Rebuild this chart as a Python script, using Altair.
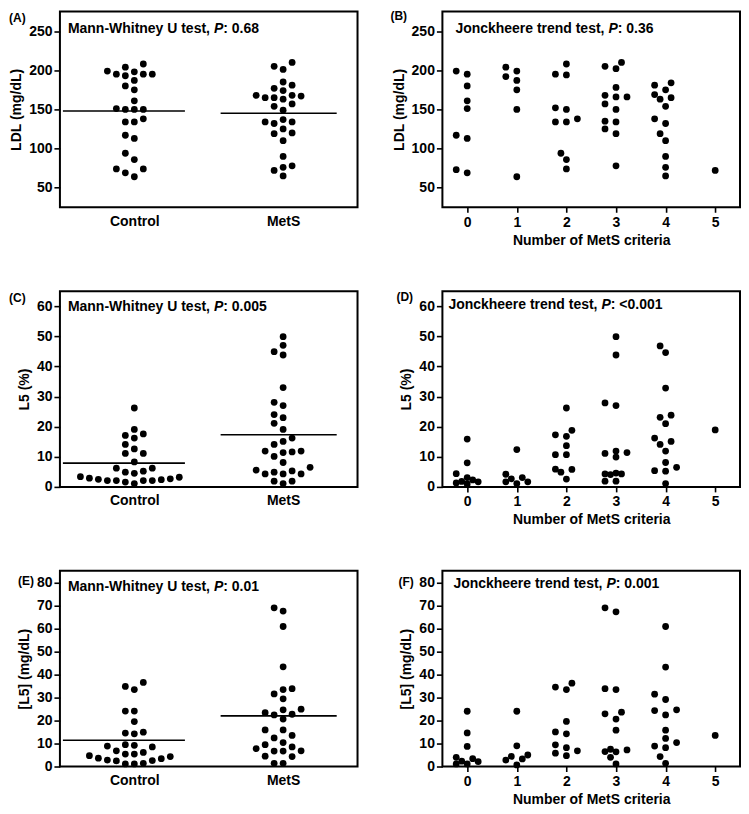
import math
import altair as alt
import pandas as pd

# ---------------- data ----------------
GROUP_LABELS = ["Control", "MetS"]
CRITERIA = [0, 1, 2, 3, 4, 5]

# (A) LDL (mg/dL) by group
LDL_CONTROL = [208, 204, 199, 198, 195, 195, 193, 195, 187, 180, 175, 161, 150, 150,
               150, 151, 138, 134, 134, 117, 113, 94, 86, 74, 74, 69, 64]
LDL_METS = [210, 205, 201, 185, 181, 177, 174, 168, 168, 167, 165, 165, 163, 157, 154,
            149, 137, 134, 134, 132, 125, 120, 119, 110, 90, 78, 76, 72, 65]
LDL_MEDIANS = [148, 145]

# (B) LDL by number of MetS criteria
LDL_BY_CRIT = [
    [117, 195, 180, 151, 113, 69, 199, 161, 73],
    [199, 192, 175, 150, 64, 204, 187],
    [208, 152, 138, 194, 150, 134, 94, 74, 195, 134, 86],
    [205, 168, 157, 125, 202, 166, 150, 135, 119, 78, 210, 178, 166, 134],
    [181, 165, 138, 175, 154, 132, 110, 90, 65, 169, 184, 163, 119, 76],
    [72],
]

# (C) L5 (%) by group
L5P_CONTROL = [26.2, 19.1, 17.6, 17.1, 16.2, 14.1, 12.6, 11.1, 11.1, 8.3, 6.2, 6.2, 5.2,
               4.9, 4.5, 3.4, 3.2, 2.9, 2.7, 2.5, 2.4, 2.1, 2.1, 2.1, 2.1, 1.6, 1.1]
L5P_METS = [49.9, 47.0, 44.9, 43.8, 33.0, 28.1, 27.0, 24.0, 23.0, 21.1, 19.1, 16.2, 15.1,
            14.1, 11.9, 11.9, 11.6, 11.4, 10.1, 8.1, 6.5, 5.6, 5.3, 4.9, 4.3, 4.3, 4.3,
            1.9, 1.9, 1.1]
L5P_MEDIANS = [7.9, 17.3]

# (D) L5 (%) by number of MetS criteria
L5P_BY_CRIT = [
    [15.9, 8.0, 4.4, 3.1, 2.3, 1.8, 1.7, 1.3, 1.0],
    [12.4, 4.2, 3.1, 2.7, 1.7, 1.7, 1.1],
    [26.2, 18.8, 17.3, 16.8, 13.7, 10.7, 10.7, 5.9, 5.8, 4.9, 2.6],
    [49.9, 43.8, 27.9, 27.0, 11.9, 11.4, 11.1, 9.9, 4.6, 4.3, 4.3, 4.1, 1.9, 1.9],
    [46.8, 44.6, 32.8, 23.8, 23.1, 21.0, 16.2, 15.1, 14.1, 11.9, 8.1, 6.5, 5.4, 5.2, 1.1],
    [18.9],
]

# (E) [L5] (mg/dL) by group
L5C_CONTROL = [36.5, 34.8, 33.4, 24.1, 24.1, 19.5, 14.9, 14.5, 14.2, 9.5, 9.2, 8.9, 8.5,
               6.8, 6.1, 5.4, 5.4, 4.7, 4.3, 3.6, 3.4, 2.8, 2.6, 2.4, 1.4, 1.1, 1.1]
L5C_METS = [68.9, 67.5, 60.8, 43.3, 33.8, 33.4, 31.5, 29.4, 24.9, 24.6, 23.4, 22.7, 22.4,
            20.6, 15.9, 15.9, 13.5, 12.4, 10.4, 9.5, 8.5, 7.8, 6.8, 6.7, 6.7, 4.5, 4.3,
            1.4, 1.4]
L5C_MEDIANS = [11.4, 22.0]

# (F) [L5] by number of MetS criteria
L5C_BY_CRIT = [
    [24.0, 14.6, 8.7, 4.0, 3.4, 2.3, 2.1, 1.1, 1.1],
    [24.0, 9.0, 5.0, 4.4, 3.3, 2.8, 0.7],
    [36.2, 34.5, 33.4, 19.6, 15.0, 14.2, 9.4, 8.2, 6.8, 5.8, 4.7],
    [68.9, 67.2, 33.8, 33.4, 23.6, 22.9, 20.6, 15.8, 7.5, 7.2, 6.5, 6.4, 4.0, 1.1],
    [60.8, 43.2, 31.4, 29.1, 24.6, 24.3, 22.4, 15.8, 12.2, 10.4, 8.9, 8.2, 4.3, 1.4],
    [13.5],
]

# ---------------- layout / style ----------------
FONT = "Liberation Sans"
W, H = 298, 196
SP_H, SP_V = 85, 84
DOT = 46

# Arial/Liberation Sans Bold advance widths (1/1000 em) for text layout
BOLD = {' ': 278, '(': 333, ')': 333, ',': 278, '-': 333, '.': 278, ':': 333, '<': 584,
        'J': 556, 'M': 833, 'P': 667, 'U': 722, 'W': 944, 'a': 556, 'c': 556, 'd': 611,
        'e': 556, 'h': 611, 'i': 278, 'k': 556, 'n': 611, 'o': 611, 'r': 389, 's': 556,
        't': 333, 'y': 556}


def text_width(s, size):
    return sum(BOLD.get(c, 556) for c in s) / 1000.0 * size


def swarm(values, ppu_y, ppu_x, grid, dist, kmax):
    """Beeswarm offsets (in x data units) so that dots do not overlap."""
    order = sorted(range(len(values)), key=lambda i: values[i])
    slots = [0]
    for k in range(1, kmax + 1):
        slots += [-k, k]
    placed = []
    offs = [0.0] * len(values)
    for i in order:
        y = values[i] * ppu_y
        chosen, best_k, best_d = None, 0, -1.0
        for k in slots:
            x = k * grid
            md = min((math.hypot(x - px, y - py) for px, py in placed), default=1e9)
            if md >= dist:
                chosen = k
                break
            if md > best_d:
                best_d, best_k = md, k
        if chosen is None:
            chosen = best_k
        placed.append((chosen * grid, y))
        offs[i] = chosen * grid / ppu_x
    return offs


def panel(groups, ydom, yticks, ytitle, letter, test, pval, left, medians=None,
          tdx=8, tdy=21, ldx=-50, ldy=12):
    xdom = [-0.5, 1.5] if left else [-0.5, 5.5]
    ppu_x = W / (xdom[1] - xdom[0])
    ppu_y = H / (ydom[1] - ydom[0])
    grid, dist, kmax = (9.0, 8.5, 7) if left else (5.5, 7.8, 2)
    rows = []
    for g, vals in enumerate(groups):
        offs = swarm(vals, ppu_y, ppu_x, grid, dist, kmax)
        for v, o in zip(vals, offs):
            rows.append({"g": g, "off": o, "val": v})
    df = pd.DataFrame(rows)

    if left:
        expr = " : ".join(f"datum.value == {i} ? '{c}'" for i, c in enumerate(GROUP_LABELS[:-1]))
        expr += f" : '{GROUP_LABELS[-1]}'"
        xaxis = alt.Axis(values=list(range(len(GROUP_LABELS))), labelExpr=expr, ticks=False,
                         title=None, labelPadding=7)
    else:
        xaxis = alt.Axis(values=CRITERIA, format="d", tickSize=5, labelPadding=3,
                         title="Number of MetS criteria", titlePadding=4)
    yaxis = alt.Axis(values=yticks, tickSize=6, labelPadding=2, title=ytitle, titlePadding=5)

    def xenc(field):
        return alt.X(field, type="quantitative", scale=alt.Scale(domain=xdom, nice=False, zero=False),
                     axis=xaxis)

    def yenc(field):
        return alt.Y(field, type="quantitative", scale=alt.Scale(domain=ydom, nice=False, zero=False),
                     axis=yaxis)

    pts = alt.Chart(df).transform_calculate(xpos="datum.g + datum.off").mark_circle(
        size=DOT, color="black", opacity=1).encode(x=xenc("xpos"), y=yenc("val"))
    layers = [pts]

    if medians is not None:
        mdf = pd.DataFrame({"g": list(range(len(medians))), "val": medians})
        lo = [-0.48, -0.42]
        hi = [0.34, 0.36]
        mdf["xpos"] = [g + lo[g] for g in mdf["g"]]
        mdf["xpos2"] = [g + hi[g] for g in mdf["g"]]
        rule = alt.Chart(mdf).mark_rule(color="black", strokeWidth=1.6).encode(
            x=xenc("xpos"), x2="xpos2:Q", y=yenc("val"))
        layers.append(rule)

    one = alt.Data(values=[{}])
    fs = 14
    w1 = text_width(test, fs)
    w2 = text_width("P", fs)
    pieces = [(test, tdx, "normal"), ("P", tdx + w1, "italic"), (pval, tdx + w1 + w2, "normal")]
    for txt, dx, style in pieces:
        layers.append(alt.Chart(one).mark_text(
            align="left", baseline="alphabetic", font=FONT, fontSize=fs, fontWeight="bold",
            fontStyle=style, color="black").encode(
            text=alt.value(txt), x=alt.value(dx), y=alt.value(tdy)))

    layers.append(alt.Chart(one).mark_text(
        align="left", baseline="alphabetic", font=FONT, fontSize=12, fontWeight="bold",
        color="black").encode(text=alt.value(f"({letter})"), x=alt.value(ldx), y=alt.value(ldy)))

    return alt.layer(*layers).properties(width=W, height=H)


MW = "Mann-Whitney U test, "
JT = "Jonckheere trend test, "

pA = panel([LDL_CONTROL, LDL_METS], [25, 275], [50, 100, 150, 200, 250], "LDL (mg/dL)",
           "A", MW, ": 0.68", True, LDL_MEDIANS, tdx=8, tdy=21, ldx=-51, ldy=10)
pB = panel(LDL_BY_CRIT, [25, 275], [50, 100, 150, 200, 250], "LDL (mg/dL)",
           "B", JT, ": 0.36", False, tdx=13, tdy=21, ldx=-52, ldy=8)
pC = panel([L5P_CONTROL, L5P_METS], [0, 65], [0, 10, 20, 30, 40, 50, 60], "L5 (%)",
           "C", MW, ": 0.005", True, L5P_MEDIANS, tdx=8, tdy=20, ldx=-51, ldy=11)
pD = panel(L5P_BY_CRIT, [0, 65], [0, 10, 20, 30, 40, 50, 60], "L5 (%)",
           "D", JT, ": <0.001", False, tdx=6, tdy=18, ldx=-46, ldy=10)
pE = panel([L5C_CONTROL, L5C_METS], [0, 85], [0, 10, 20, 30, 40, 50, 60, 70, 80], "[L5] (mg/dL)",
           "E", MW, ": 0.01", True, L5C_MEDIANS, tdx=8, tdy=20, ldx=-42, ldy=14)
pF = panel(L5C_BY_CRIT, [0, 85], [0, 10, 20, 30, 40, 50, 60, 70, 80], "[L5] (mg/dL)",
           "F", JT, ": 0.001", False, tdx=11, tdy=17, ldx=-44, ldy=15)

chart = alt.concat(
    pA, pB, pC, pD, pE, pF, columns=2,
    spacing={"row": SP_V, "column": SP_H}, bounds="flush",
).properties(
    padding=0, background="white"
).configure_view(
    stroke="black", strokeWidth=2
).configure_axis(
    labelFont=FONT, labelFontSize=14, labelFontWeight="bold", labelColor="black",
    titleFont=FONT, titleFontSize=14, titleFontWeight="bold", titleColor="black",
    tickColor="black", tickWidth=1.6, domain=False, grid=False,
)

chart.save("out.html", embed_options={"renderer": "svg", "actions": False})
